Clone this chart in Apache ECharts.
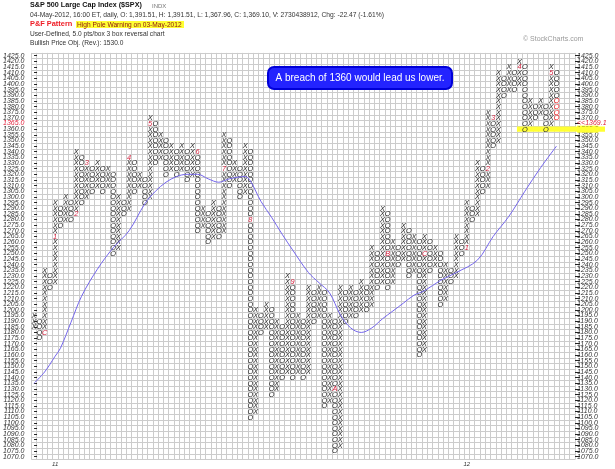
<!DOCTYPE html>
<html>
<head>
<meta charset="utf-8">
<script src="https://cdn.jsdelivr.net/npm/echarts@6/dist/echarts.min.js"></script>
<style>
  html, body { margin: 0; padding: 0; background: #fff; }
  #chart { width: 615px; height: 469px; }
</style>
</head>
<body>
<div id="chart"></div>
<script>
// ---- P&F columns (5.0 pts/box, 3 box reversal) ----
// column 0 is an X column, types alternate from there
const colType = ['X','O','X','O','X','O','X','O','X','O',
                 'X','O','X','O','X','O','X','O','X','O',
                 'X','O','X','O','X','O','X','O','X','O',
                 'X','O','X','O','X','O','X','O','X','O',
                 'X','O','X','O','X','O','X','O','X','O',
                 'X','O','X','O','X','O','X','O','X','O',
                 'X','O','X','O','X','O','X','O','X','O',
                 'X','O','X','O','X','O','X','O','X','O',
                 'X','O','X','O','X','O','X','O','X','O',
                 'X','O','X','O','X','O','X','O','X','O'];
const colLow  = [1185,1175,1180,1220,1225,1275,1280,1280,1285,1295,
                 1300,1305,1310,1305,1310,1250,1255,1285,1290,1305,
                 1310,1295,1300,1330,1335,1320,1325,1320,1325,1315,
                 1320,1270,1275,1260,1265,1265,1270,1310,1315,1300,
                 1305,1105,1110,1180,1185,1125,1130,1140,1145,1140,
                 1145,1140,1145,1190,1195,1115,1120,1075,1080,1190,
                 1195,1195,1200,1200,1205,1220,1225,1220,1225,1240,
                 1245,1230,1235,1160,1165,1235,1240,1205,1210,1225,
                 1230,1250,1255,1280,1285,1305,1310,1345,1350,1390,
                 1395,1395,1400,1360,1365,1370,1375,1360,1365,1370];
const colHigh = [1195,1190,1235,1230,1295,1290,1300,1295,1340,1335,
                 1330,1325,1330,1325,1325,1320,1300,1295,1335,1330,
                 1320,1315,1370,1365,1355,1350,1345,1340,1345,1340,
                 1345,1340,1290,1285,1295,1290,1355,1350,1330,1325,
                 1345,1340,1200,1195,1205,1200,1190,1185,1230,1225,
                 1195,1190,1220,1215,1220,1215,1195,1190,1220,1215,
                 1220,1215,1225,1220,1255,1250,1290,1285,1260,1255,
                 1275,1270,1265,1260,1265,1260,1255,1250,1240,1235,
                 1265,1260,1295,1290,1330,1325,1375,1370,1410,1405,
                 1415,1410,1420,1415,1385,1380,1385,1380,1415,1410];

// first box of each month, written with the month code
const monthCol   = [2, 4, 8, 10, 18, 22, 31, 36, 41, 49, 57, 67, 74, 82, 86, 87, 92, 98];
const monthPrice = [1180,1265,1285,1330,1335,1365,1340,1325,1280,1225,1130,1250,1250,1255,1325,1370,1415,1410];
const monthCode  = ['C','1','2','3','4','5','6','7','8','9','A','B','C','1','2','3','4','5'];

// boxes added in the latest session
const latestCol = 99, latestLow = 1370, latestHigh = 1385;

// moving average, read at these columns
const maCol = [0, 2, 4, 5, 7, 9, 12, 15, 18, 21, 23, 25, 27, 29, 31, 33, 35, 37, 40, 41,
               43, 45, 47, 49, 52, 54, 56, 58, 60, 62, 64, 66, 68, 70, 72, 74, 77, 80, 84, 87,
               90, 93, 96, 99];
const maVal = [1135,1145,1159,1166,1189,1212,1236,1255,1270,1294,1305,1313,1318,1320,1320,1316,1313,1316,1318,1314,
               1296,1282,1267,1253,1233,1224,1215,1196,1184,1180,1184,1192,1199,1206,1213,1217,1226,1233,1244,1265,
               1283,1305,1326,1345];

// price scale and column scale
const priceTop = 1425, priceBottom = 1070, boxSize = 5;
const gridColumns = 103;
const yearCols = [4, 82];
const yearLabels = ['11', '12'];
const lastPrice = 1369.1, lastPriceRow = '1365.0';
const triggerPrice = 1360, triggerFromCol = 92;

const INK = '#2a2a2a', MONTH = '#d21f3c', LATEST = '#f0242b', GRID = '#cccccc';
const FONT = '"Liberation Sans", Arial, sans-serif';

const priceLabels = [];
for (let p = priceBottom; p <= priceTop; p += boxSize) priceLabels.push(p.toFixed(1));
const colNames = Array.from({ length: gridColumns }, (_, i) => String(i));

// expand columns into boxes
const boxData = [], boxText = [], boxColor = [];
colType.forEach((t, i) => {
  for (let p = colLow[i]; p <= colHigh[i]; p += boxSize) {
    let txt = t, col = INK;
    const m = monthCol.findIndex((c, k) => c === i && monthPrice[k] === p);
    if (m >= 0) { txt = monthCode[m]; col = MONTH; }
    else if (i === latestCol && p >= latestLow && p <= latestHigh) col = LATEST;
    boxData.push([i, p]); boxText.push(txt); boxColor.push(col);
  }
});

const chart = echarts.init(document.getElementById('chart'), null, { renderer: 'canvas' });

const labelCommon = {
  interval: 0, fontSize: 7, fontStyle: 'italic', color: '#333', fontFamily: FONT,
  rich: {
    r: { color: '#e0203a', fontSize: 7, fontStyle: 'italic', fontFamily: FONT },
    y: { backgroundColor: '#ffff33', fontSize: 7, fontStyle: 'italic', fontFamily: FONT, color: '#333' }
  }
};

chart.setOption({
  animation: false,
  backgroundColor: '#fff',
  grid: { left: 29, right: 40, top: 52.9, bottom: 9.5, containLabel: false },
  xAxis: [
    {
      type: 'category', data: colNames, boundaryGap: true, position: 'bottom',
      axisLine: { show: false }, axisTick: { show: false },
      axisLabel: {
        interval: 0, fontSize: 6, fontStyle: 'italic', color: '#333', fontFamily: FONT, margin: 2,
        formatter: (v, i) => { const k = yearCols.indexOf(i); return k >= 0 ? yearLabels[k] : ''; }
      },
      splitLine: { show: true, interval: 0, lineStyle: { color: GRID, width: 1 } }
    },
    { type: 'value', min: -0.5, max: gridColumns - 0.5, show: false }
  ],
  yAxis: [
    {
      type: 'category', data: priceLabels, position: 'left', boundaryGap: true,
      axisLine: { show: false },
      axisTick: { show: true, inside: true, alignWithLabel: true, length: 3, lineStyle: { color: '#222' } },
      axisLabel: Object.assign({}, labelCommon, {
        margin: 7,
        formatter: v => v === lastPriceRow ? '{r|' + v + '}' : v
      }),
      splitLine: { show: true, interval: 0, lineStyle: { color: GRID, width: 1 } }
    },
    {
      type: 'category', data: priceLabels, position: 'right', boundaryGap: true,
      axisLine: { show: false },
      axisTick: { show: true, inside: false, alignWithLabel: true, length: 5, lineStyle: { color: '#222' } },
      axisLabel: Object.assign({}, labelCommon, {
        margin: 2,
        formatter: v => v === lastPriceRow ? '{r|<<' + lastPrice.toFixed(1) + '}'
                     : (Number(v) === triggerPrice ? '{y|' + v + '}' : v)
      }),
      splitLine: { show: false }
    },
    { type: 'value', min: priceBottom - boxSize / 2, max: priceTop + boxSize / 2, show: false }
  ],
  series: [
    {
      // highlighted trigger level
      type: 'custom', xAxisIndex: 1, yAxisIndex: 2, clip: false, z: 1, silent: true,
      data: [[triggerFromCol - 0.5, triggerPrice]],
      renderItem: (params, api) => {
        const a = api.coord([api.value(0), api.value(1)]);
        const h = api.size([0, boxSize])[1] * 0.9;
        return { type: 'rect', shape: { x: a[0], y: a[1] - h / 2, width: api.getWidth() - 10 - a[0], height: h },
                 style: { fill: '#ffff33' } };
      }
    },
    {
      type: 'custom', xAxisIndex: 1, yAxisIndex: 2, z: 3, silent: true,
      data: boxData,
      renderItem: (params, api) => {
        const pt = api.coord([api.value(0), api.value(1)]);
        return {
          type: 'text', x: pt[0], y: pt[1] + 0.3,
          style: { text: boxText[params.dataIndex], fill: boxColor[params.dataIndex],
                   font: 'italic 7.4px ' + FONT, align: 'center', verticalAlign: 'middle' }
        };
      }
    },
    {
      type: 'line', xAxisIndex: 1, yAxisIndex: 2, z: 4, silent: true,
      data: maCol.map((c, i) => [c, maVal[i]]),
      smooth: 0.35, symbol: 'none',
      lineStyle: { color: '#7466ec', width: 1 }
    }
  ],
  graphic: [
    { type: 'text', z: 20, left: 30, top: 2, style: { text: 'S&P 500 Large Cap Index ($SPX)', font: 'bold 7.2px ' + FONT, fill: '#111' } },
    { type: 'text', z: 20, left: 152, top: 3, style: { text: 'INDX', font: '6px ' + FONT, fill: '#777' } },
    { type: 'text', z: 20, left: 30, top: 12, style: { text: '04-May-2012, 16:00 ET, daily, O: 1,391.51, H: 1,391.51, L: 1,367.96, C: 1,369.10, V: 2730438912, Chg: -22.47 (-1.61%)', font: '6.7px ' + FONT, fill: '#333' } },
    { type: 'text', z: 20, left: 30, top: 20.5, style: { text: 'P&F Pattern', font: 'bold 7.4px ' + FONT, fill: '#ee1c25' } },
    { type: 'rect', z: 19, shape: { x: 76, y: 21, width: 108, height: 7 }, style: { fill: '#ffff33' } },
    { type: 'text', z: 20, left: 77, top: 21.3, style: { text: 'High Pole Warning on 03-May-2012', font: '6.6px ' + FONT, fill: '#8a1010' } },
    { type: 'text', z: 20, left: 30, top: 30.5, style: { text: 'User-Defined, 5.0 pts/box 3 box reversal chart', font: '6.6px ' + FONT, fill: '#333' } },
    { type: 'text', z: 20, left: 30, top: 39.8, style: { text: 'Bullish Price Obj. (Rev.): 1530.0', font: '6.6px ' + FONT, fill: '#333' } },
    { type: 'text', z: 20, left: 523, top: 35.5, style: { text: '\u00A9 StockCharts.com', font: '7px ' + FONT, fill: '#999' } },
    { type: 'rect', z: 30, shape: { x: 268, y: 67, width: 184, height: 22, r: 6 }, style: { fill: '#2323ff', stroke: '#0000d8', lineWidth: 2 } },
    { type: 'text', z: 31, x: 360, y: 78.5, style: { text: 'A breach of 1360 would lead us lower.', font: '10px ' + FONT, fill: '#ffffff', align: 'center', verticalAlign: 'middle', textAlign: 'center', textVerticalAlign: 'middle' } }
  ]
});
</script>
</body>
</html>
